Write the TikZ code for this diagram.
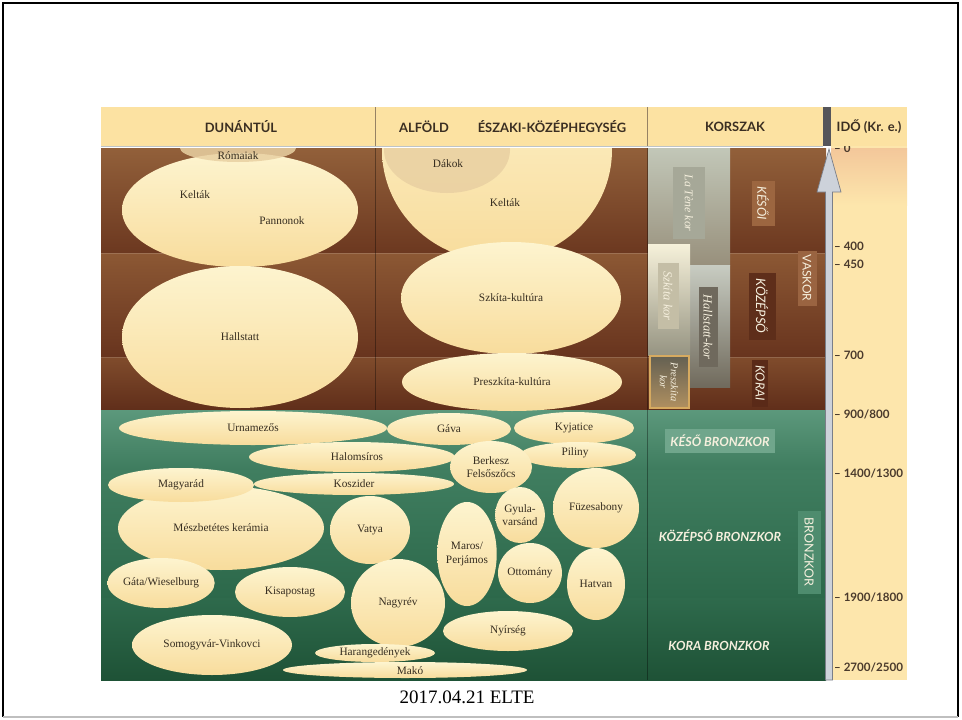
\documentclass[tikz,border=0pt]{standalone}
\usepackage{fontspec}
\setmainfont{Liberation Serif}
\newfontfamily\hdr{Lato}
\usetikzlibrary{shapes.geometric}
\definecolor{hdryel}{HTML}{FCE2A2}
\definecolor{timeyel}{HTML}{FDE6AC}
\definecolor{peach}{HTML}{F3C79A}
\definecolor{creamT}{HTML}{FDF4CF}
\definecolor{creamB}{HTML}{F8DC9C}
\definecolor{tanC}{HTML}{E9D0A2}
\definecolor{ink}{HTML}{362D20}
\definecolor{hdrink}{HTML}{3A2E22}
\definecolor{tickink}{HTML}{4A3A2C}
\definecolor{labw}{HTML}{F6F0DE}
\definecolor{shaftC}{HTML}{CDD2DA}
\definecolor{shaftD}{HTML}{7A7E88}
\definecolor{barC}{HTML}{55555A}
\definecolor{hdrline}{HTML}{968264}
\definecolor{hdrbot}{HTML}{BEC4C8}
\tikzset{
  cult/.style={ellipse, inner sep=0pt, top color=creamT, bottom color=creamB, draw=none,
    font=\fontsize{11.3}{13.5}\selectfont, text=ink, align=center},
  cultan/.style={ellipse, inner sep=0pt, fill=tanC, fill opacity=0.85, draw=none},
  ctxt/.style={font=\fontsize{11.3}{13.5}\selectfont, text=ink, align=center, inner sep=0pt},
  hdrtxt/.style={font=\hdr\bfseries\fontsize{12.9}{14}\selectfont, text=hdrink},
  tick/.style={anchor=west, inner sep=0pt, font=\hdr\bfseries\fontsize{11.6}{13}\selectfont, text=tickink},
  vbox/.style={rotate=-90, inner sep=0pt, text=labw, align=center},
  agebox/.style={inner sep=0pt, text=labw, font=\hdr\bfseries\itshape\fontsize{12.6}{14}\selectfont},
}
\begin{document}
\begin{tikzpicture}[x=1pt,y=-1pt]
\useasboundingbox (0,0) rectangle (962,720);
\fill[white] (0,0) rectangle (962,720);

% ---------- background bands ----------
\fill[top color={rgb,255:red,146;green,96;blue,58}, bottom color={rgb,255:red,108;green,56;blue,32}] (101,148) rectangle (826,253);
\fill[top color={rgb,255:red,140;green,88;blue,52}, bottom color={rgb,255:red,104;green,52;blue,30}] (101,253) rectangle (826,357);
\fill[top color={rgb,255:red,128;green,76;blue,44}, bottom color={rgb,255:red,96;green,46;blue,26}] (101,357) rectangle (826,410);
\fill[top color={rgb,255:red,92;green,152;blue,124}, bottom color={rgb,255:red,62;green,124;blue,94}] (101,410) rectangle (826,470);
\fill[top color={rgb,255:red,64;green,126;blue,96}, bottom color={rgb,255:red,44;green,104;blue,74}] (101,470) rectangle (826,598);
\fill[top color={rgb,255:red,46;green,106;blue,76}, bottom color={rgb,255:red,30;green,82;blue,54}] (101,598) rectangle (826,680);
\draw[white, opacity=0.15, line width=1pt] (101,253) -- (826,253) (101,357) -- (826,357);
\draw[black, opacity=0.35, line width=0.8pt] (375,148) -- (375,410) (647,148) -- (647,680);

% time column
\fill[timeyel] (831,146) rectangle (907,680);
\fill[top color=peach, bottom color=timeyel] (831,148) rectangle (907,205);

% ---------- cultures (clipped) ----------
\begin{scope}
\clip (101,148) rectangle (826,680);
% Dunantul iron age
\node[cult, minimum width=236, minimum height=114] (keltakD) at (240,210) {};
\node[ctxt] (keltakDt) at (195,195) {Kelták};
\node[ctxt] (pannonok) at (282,221) {Pannonok};
\node[cultan, minimum width=116, minimum height=28] (romaiak) at (238,148) {};
\node[ctxt] (romaiakt) at (238,156) {Rómaiak};
\node[cult, minimum width=236, minimum height=142] (hallstatt) at (240,337) {Hallstatt};
% Alfold / Eszaki iron age
\node[cult, minimum width=230, minimum height=222] (keltakA) at (497,150) {};
\node[ctxt] (keltakAt) at (505,203) {Kelták};
\node[cultan, minimum width=126, minimum height=86] (dakok) at (447,150) {};
\node[ctxt] (dakokt) at (448,164) {Dákok};
\node[cult, minimum width=220, minimum height=112] (szkita) at (511,298) {Szkíta-kultúra};
\node[cult, minimum width=220, minimum height=58] (preszkita) at (512,382) {Preszkíta-kultúra};
% bronze age
\node[cult, minimum width=268, minimum height=34] (urna) at (253,428) {Urnamezős};
\node[cult, minimum width=124, minimum height=32] (gava) at (449,429) {Gáva};
\node[cult, minimum width=120, minimum height=32] (kyjatice) at (574,428) {Kyjatice};
\node[cult, minimum width=206, minimum height=30] (halom) at (352,457) {};
\node[ctxt] (halomt) at (357,457) {Halomsíros};
\node[cult, minimum width=116, minimum height=26] (piliny) at (578,455) {};
\node[ctxt] (pilinyt) at (575,453) {Piliny};
\node[cult, minimum width=200, minimum height=22] (koszider) at (354,484) {Koszider};
\node[cult, minimum width=82, minimum height=52] (berkesz) at (491,467) {Berkesz\\Felsőszőcs};
\node[cult, minimum width=206, minimum height=84] (meszb) at (221,528) {Mészbetétes kerámia};
\node[cult, minimum width=146, minimum height=34] (magyarad) at (181,485) {Magyarád};
\node[cult, minimum width=80, minimum height=68] (vatya) at (370,530) {Vatya};
\node[cult, minimum width=58, minimum height=104] (maros) at (467,554) {Maros/\\Perjámos};
\node[cult, minimum width=46, minimum height=56] (gyula) at (520,515) {Gyula-\\varsánd};
\node[cult, minimum width=86, minimum height=80] (fuzes) at (596,508) {Füzesabony};
\node[cult, minimum width=56, minimum height=60] (ottomany) at (530,573) {Ottomány};
\node[cult, minimum width=58, minimum height=72] (hatvan) at (596,584) {Hatvan};
\node[cult, minimum width=86, minimum height=50] (gata) at (161,583) {Gáta/Wieselburg};
\node[cult, minimum width=110, minimum height=50] (kisapostag) at (290,592) {Kisapostag};
\node[cult, minimum width=94, minimum height=88] (nagyrev) at (398,603) {Nagyrév};
\node[cult, minimum width=130, minimum height=40] (nyirseg) at (508,631) {Nyírség};
\node[cult, minimum width=160, minimum height=60] (somogy) at (212,645) {Somogyvár-Vinkovci};
\node[cult, minimum width=120, minimum height=18] (harang) at (375,653) {Harangedények};
\node[cult, minimum width=244, minimum height=16] (mako) at (405,670) {};
\node[ctxt] (makot) at (410,671) {Makó};
\end{scope}

% ---------- korszak column, iron age ----------
\fill[top color={rgb,255:red,194;green,199;blue,184}, bottom color={rgb,255:red,152;green,144;blue,124}] (648,148) rectangle (730,265);
\fill[top color={rgb,255:red,200;green,204;blue,194}, bottom color={rgb,255:red,112;green,106;blue,92}] (690,265) rectangle (730,387);
\fill[top color={rgb,255:red,246;green,241;blue,218}, bottom color={rgb,255:red,150;green,148;blue,130}] (648,244) rectangle (690,355);
\fill[top color={rgb,255:red,100;green,96;blue,82}, bottom color={rgb,255:red,176;green,144;blue,96}, draw={rgb,255:red,214;green,170;blue,96}, line width=1.2pt] (650,356) rectangle (689,408);

\node[vbox, fill={rgb,255:red,166;green,168;blue,152}, minimum width=72, minimum height=32, font=\itshape\fontsize{11.8}{13}\selectfont] (latene) at (689,203) {La Tène kor};
\node[vbox, fill={rgb,255:red,196;green,190;blue,166}, minimum width=66, minimum height=21, font=\itshape\fontsize{12.5}{13}\selectfont] (szkitakor) at (668,296) {Szkíta kor};
\node[vbox, fill={rgb,255:red,111;green,105;blue,93}, minimum width=80, minimum height=19, font=\itshape\fontsize{12.5}{13}\selectfont] (hallkor) at (708,327) {Hallstatt-kor};
\node[vbox, font=\itshape\fontsize{10.5}{11}\selectfont] (preszkor) at (669,382) {Preszkíta\\kor};

\node[vbox, fill={rgb,255:red,156;green,102;blue,64}, minimum width=45, minimum height=23, font=\hdr\itshape\fontsize{12.5}{14}\selectfont] (kesoi) at (763,203) {KÉSŐI};
\node[vbox, fill={rgb,255:red,94;green,46;blue,26}, minimum width=67, minimum height=27, font=\hdr\itshape\fontsize{13}{14}\selectfont] (kozepso) at (762,306) {KÖZÉPSŐ};
\node[vbox, fill={rgb,255:red,90;green,42;blue,24}, minimum width=47, minimum height=16, font=\hdr\itshape\fontsize{12.5}{14}\selectfont] (korai) at (760,383) {KORAI};
\node[vbox, fill={rgb,255:red,154;green,100;blue,65}, minimum width=55, minimum height=19, font=\hdr\fontsize{12}{14}\selectfont] (vaskor) at (807,278) {VASKOR};

% ---------- korszak column, bronze age ----------
\node[agebox, fill={rgb,255:red,112;green,166;blue,140}, minimum width=110, minimum height=24] (kesob) at (720,441) {KÉSŐ BRONZKOR};
\node[agebox] (kozepb) at (720,536) {KÖZÉPSŐ BRONZKOR};
\node[agebox] (korab) at (719,646) {KORA BRONZKOR};
\node[vbox, fill={rgb,255:red,78;green,140;blue,110}, minimum width=83, minimum height=23, font=\hdr\fontsize{12.5}{14}\selectfont] (bronzkor) at (809,552) {BRONZKOR};

% ---------- time labels ----------
\node[tick] (t0) at (834,148) {– 0};
\node[tick] (t400) at (834,246) {– 400};
\node[tick] (t450) at (834,264) {– 450};
\node[tick] (t700) at (834,355) {– 700};
\node[tick] (t900) at (834,414) {– 900/800};
\node[tick] (t1400) at (834,473) {– 1400/1300};
\node[tick] (t1900) at (834,597) {– 1900/1800};
\node[tick] (t2700) at (834,667) {– 2700/2500};

% ---------- header ----------
\fill[hdryel] (101,107) rectangle (907,146);
\draw[hdrline, line width=0.6pt] (375,107) -- (375,146) (647,107) -- (647,146);
\draw[hdrbot, line width=1.2pt] (101,146.5) -- (823,146.5);
\fill[barC] (823,107) rectangle (831,146);
\node[hdrtxt] (hdun) at (241,127) {DUNÁNTÚL};
\node[hdrtxt] (half) at (424,127) {ALFÖLD};
\node[hdrtxt] (hesz) at (552,127) {ÉSZAKI-KÖZÉPHEGYSÉG};
\node[hdrtxt] (hkor) at (735,127) {KORSZAK};
\node[hdrtxt] (hido) at (869,127) {IDŐ (Kr. e.)};

% ---------- time arrow ----------
\coordinate (abot) at (829,680);
\coordinate (atip) at (829,149);
\fill[shaftC, draw=shaftD, line width=0.7pt]
  ([xshift=-3.5pt]abot) -- ([xshift=-3.5pt,yshift=-43pt]atip) -- ([xshift=-12pt,yshift=-43pt]atip)
  -- (atip) -- ([xshift=12pt,yshift=-43pt]atip) -- ([xshift=3.5pt,yshift=-43pt]atip) -- ([xshift=3.5pt]abot) -- cycle;

% ---------- footer and frame ----------
\node[font=\fontsize{19}{22}\selectfont] (footer) at (467,697) {2017.04.21 ELTE};
\draw[black, line width=2pt] (3,717) -- (3,3) -- (958,3) -- (958,717);
\draw[black!25, line width=1.5pt] (3,717) -- (958,717);
\end{tikzpicture}
\end{document}
